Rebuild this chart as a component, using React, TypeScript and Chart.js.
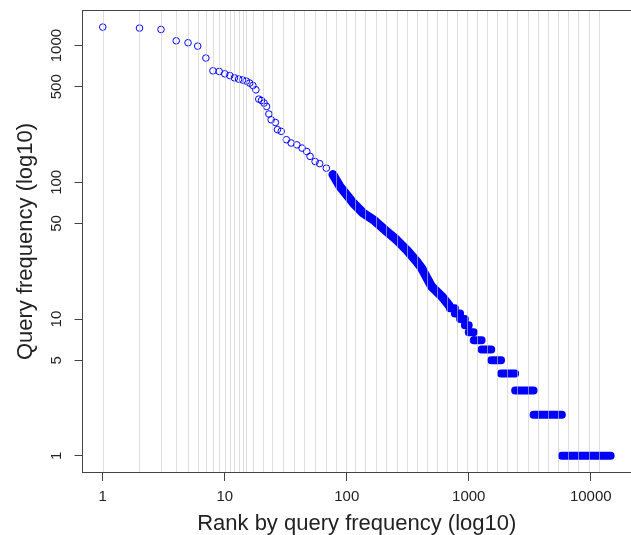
import React, { useEffect, useRef } from 'react';
import { Chart, registerables } from 'chart.js';

Chart.register(...registerables);

// Individually visible points (rank, query frequency)
const headRanks = [1, 2, 3, 4, 5, 6, 7, 8, 9, 10, 11, 12, 13, 14, 15, 16, 17, 18, 19, 20, 21, 22, 23, 24, 26, 27, 29, 32, 35, 39, 43, 47, 50, 55, 60, 68, 77];
const headFreqs = [1365, 1343, 1312, 1084, 1049, 991, 811, 654, 647, 622, 604, 581, 569, 560, 550, 532, 511, 475, 406, 397, 380, 359, 316, 287, 274, 243, 236, 205, 194, 188, 178, 168, 155, 142, 137, 127, 114];

// Dense band of overlapping points (rank, query frequency)
const bandRanks = [77, 88, 113, 136, 165, 212, 256, 309, 374, 411, 496, 599, 690];
const bandFreqs = [114, 93.3, 70.6, 59.7, 53.3, 43.8, 38.0, 32.1, 26.4, 23.6, 17.3, 14.7, 12.6];

// Tail: runs of ranks sharing the same integer frequency
const plateauFreqs = [12, 11, 10, 9, 8, 7, 6, 5, 4, 3, 2, 1];
const plateauStartRanks = [700, 770, 850, 930, 1000, 1100, 1275, 1530, 1840, 2400, 3400, 5800];
const plateauEndRanks = [769, 849, 929, 999, 1099, 1274, 1529, 1839, 2399, 3399, 5799, 14560];

const xTickValues = [1, 10, 100, 1000, 10000];
const yTickValues = [1, 5, 10, 50, 100, 500, 1000];
const gridRanks = [1, 2, 3, 4, 5, 6, 7, 8, 9, 10, 11, 12, 13, 14, 15, 17, 20.5, 24.6, 30, 37, 45, 54.5, 67, 82, 99, 117, 142, 173, 209, 256, 309, 374, 451, 551, 665, 804, 960, 1159, 1400, 1691, 2067, 2496, 3055, 3690, 4457, 5383, 6503, 7855, 9610, 11610];

const xTitle = 'Rank by query frequency (log10)';
const yTitle = 'Query frequency (log10)';

const X_MIN = 0.682;
const X_MAX = 21380;
const Y_MIN = 0.749;
const Y_MAX = 1821;

const POINT_BLUE = '#0000ff';

const framePlugin = {
  id: 'frameAndGrid',
  beforeDatasetsDraw(chart: any) {
    const { ctx, chartArea: a } = chart;
    ctx.save();
    ctx.strokeStyle = '#444444';
    ctx.lineWidth = 1;
    const l = Math.floor(a.left) + 0.5;
    const t = Math.floor(a.top) + 0.5;
    const b = Math.floor(a.bottom) - 0.5;
    const r = Math.floor(a.right) + 0.5;
    ctx.strokeRect(l, t, r - l, b - t);
    ctx.restore();
  },
  afterDatasetsDraw(chart: any) {
    const { ctx, chartArea: a } = chart;
    const xs = chart.scales.x;
    ctx.save();
    ctx.strokeStyle = 'rgba(200,200,200,0.6)';
    ctx.lineWidth = 1;
    ctx.beginPath();
    for (const v of gridRanks) {
      const px = Math.round(xs.getPixelForValue(v)) + 0.5;
      ctx.moveTo(px, Math.floor(a.top) + 1);
      ctx.lineTo(px, Math.floor(a.bottom) - 1);
    }
    ctx.stroke();
    ctx.restore();
  },
};

const zeroPadding = (scale: any) => {
  scale.paddingTop = 0;
  scale.paddingBottom = 0;
  scale.paddingLeft = 0;
  scale.paddingRight = 0;
};

export default function App() {
  const canvasRef = useRef<HTMLCanvasElement | null>(null);

  useEffect(() => {
    const canvas = canvasRef.current;
    if (!canvas) return;

    const headData = headRanks.map((r, i) => ({ x: r, y: headFreqs[i] }));
    const bandData = bandRanks.map((r, i) => ({ x: r, y: bandFreqs[i] }));
    const plateauData: { x: number; y: number | null }[] = [];
    plateauFreqs.forEach((f, i) => {
      plateauData.push({ x: plateauStartRanks[i], y: f });
      plateauData.push({ x: plateauEndRanks[i], y: f });
      plateauData.push({ x: plateauEndRanks[i], y: null });
    });

    const tickFont = { family: '"Liberation Sans", Arial, sans-serif', size: 15 };
    const titleFont = { family: '"Liberation Sans", Arial, sans-serif', size: 22, lineHeight: 1 };

    const chart = new Chart(canvas, {
      type: 'scatter',
      data: {
        datasets: [
          {
            label: 'head',
            data: headData,
            showLine: false,
            pointRadius: 3.3,
            pointBorderWidth: 1,
            pointBorderColor: POINT_BLUE,
            pointBackgroundColor: 'rgba(0,0,0,0)',
          },
          {
            label: 'band',
            data: bandData,
            showLine: true,
            pointRadius: 0,
            borderColor: POINT_BLUE,
            borderWidth: 9,
            borderJoinStyle: 'round',
            borderCapStyle: 'round',
            tension: 0,
          },
          {
            label: 'plateaus',
            data: plateauData as any,
            showLine: true,
            spanGaps: false,
            pointRadius: 0,
            borderColor: POINT_BLUE,
            borderWidth: 8,
            borderCapStyle: 'round',
            borderJoinStyle: 'round',
          },
        ],
      },
      options: {
        responsive: false,
        maintainAspectRatio: false,
        animation: false,
        devicePixelRatio: 1,
        layout: { autoPadding: false, padding: { top: 10, right: 0, bottom: 0, left: 0 } },
        plugins: {
          legend: { display: false },
          tooltip: { enabled: false },
        },
        scales: {
          x: {
            type: 'logarithmic',
            bounds: 'data',
            min: X_MIN,
            max: X_MAX,
            afterBuildTicks: (scale: any) => {
              scale.ticks = xTickValues.map((v) => ({ value: v }));
            },
            afterFit: (scale: any) => {
              scale.height = 62;
              zeroPadding(scale);
            },
            ticks: {
              autoSkip: false,
              maxRotation: 0,
              minRotation: 0,
              padding: 7,
              color: '#222222',
              font: tickFont,
              callback: (v: any) => String(v),
            },
            grid: {
              display: true,
              drawOnChartArea: false,
              drawTicks: true,
              tickLength: 8,
              color: '#444444',
            },
            border: { display: false },
            title: {
              display: true,
              text: xTitle,
              color: '#222222',
              font: titleFont,
              padding: { top: 0, bottom: 0 },
            },
          },
          y: {
            type: 'logarithmic',
            bounds: 'data',
            min: Y_MIN,
            max: Y_MAX,
            afterBuildTicks: (scale: any) => {
              scale.ticks = yTickValues.map((v) => ({ value: v }));
            },
            afterFit: (scale: any) => {
              scale.width = 82.5;
              zeroPadding(scale);
            },
            ticks: {
              autoSkip: false,
              minRotation: 90,
              maxRotation: 90,
              crossAlign: 'center',
              padding: 1,
              color: '#222222',
              font: tickFont,
              callback: (v: any) => String(v),
            },
            grid: {
              display: true,
              drawOnChartArea: false,
              drawTicks: true,
              tickLength: 8,
              color: '#444444',
            },
            border: { display: false },
            title: {
              display: true,
              text: yTitle,
              color: '#222222',
              font: titleFont,
              padding: { top: 15, bottom: 0 },
            },
          },
        },
      },
      plugins: [framePlugin],
    } as any);

    return () => {
      chart.destroy();
    };
  }, []);

  return (
    <div style={{ position: 'fixed', left: 0, top: 0, width: 631, height: 535, background: '#ffffff', overflow: 'hidden' }}>
      <canvas ref={canvasRef} width={631} height={535} style={{ display: 'block' }} />
    </div>
  );
}
